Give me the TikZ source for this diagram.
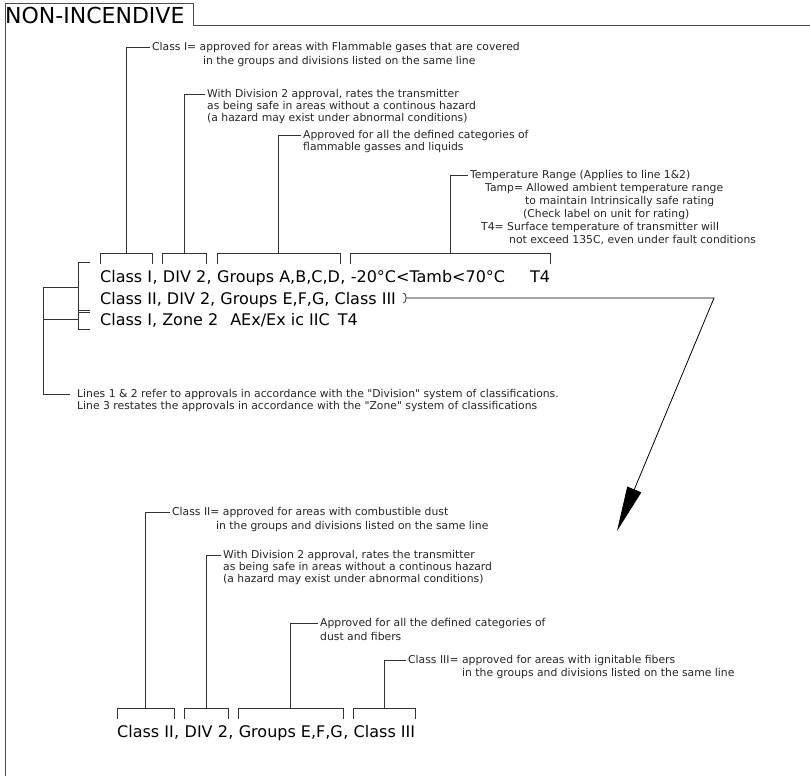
\documentclass[tikz,border=0pt]{standalone}
\usepackage{fontspec}
\setmainfont{DejaVu Sans}[Ligatures=TeXOff]
\usepackage{tikz}
\usetikzlibrary{arrows.meta,calc}
\tikzset{
    seg/.style={inner sep=0pt, anchor=base west, font=\fontsize{16}{19}\selectfont},
    note/.style={inner sep=0pt, anchor=north west, yshift=4.7pt, align=left, text=black!85, font=\fontsize{10.8}{#1}\selectfont},
    note/.default=12,
    brk/.style={draw=black!80, line width=0.8pt},
    lead/.style={draw=black!80, line width=0.8pt}}

\begin{document}
\begin{tikzpicture}[x=1pt,y=-1pt]
\useasboundingbox (0,0) rectangle (810,776);
% frame and title
\node[inner sep=0pt, anchor=base west, font=\fontsize{22}{26}\selectfont] (ttl) at (5,24) {NON-INCENDIVE};
\draw[brk, draw=black!70] (5,776) -- (5,3) -- (193,3) -- (193,25) -- (810,25);
% upper label lines
\node[seg] (u1) at (100,282) {Class I};
\node[seg] (uc1) at (u1.base east) {,};
\node[seg] (u2) at ([xshift=5pt]uc1.base east) {DIV 2};
\node[seg] (uc2) at (u2.base east) {,};
\node[seg] (u3) at ([xshift=5pt]uc2.base east) {Groups A,B,C,D};
\node[seg] (uc3) at (u3.base east) {,};
\node[seg] (u4) at ([xshift=5pt]uc3.base east) {-20°C<Tamb<70°C\hspace{25pt}T4};
\node[seg] (ln2) at (100,304) {Class II, DIV 2, Groups E,F,G, Class III};
\node[seg] (ln3) at (100,325) {Class I, Zone 2\hspace{12pt}AEx/Ex ic IIC\hspace{8pt}T4};
% lower label line
\node[seg] (d1) at (117,737) {Class II};
\node[seg] (dc1) at (d1.base east) {,};
\node[seg] (d2) at ([xshift=5pt]dc1.base east) {DIV 2};
\node[seg] (dc2) at (d2.base east) {,};
\node[seg] (d3) at ([xshift=5pt]dc2.base east) {Groups E,F,G};
\node[seg] (dc3) at (d3.base east) {,};
\node[seg] (d4) at ([xshift=5pt]dc3.base east) {Class III};
% notes
\node[note=14] (cls1) at (152,47) {Class I= approved for areas with Flammable gases that are covered\\\hspace*{51pt}in the groups and divisions listed on the same line};
\node[note=11.7] (div1) at (207,94) {With Division 2 approval, rates the transmitter\\as being safe in areas without a continous hazard\\(a hazard may exist under abnormal conditions)};
\node[note] (grp1) at (303,135) {Approved for all the defined categories of\\flammable gasses and liquids};
\node[note=13] (tmp1) at (470,175) {Temperature Range (Applies to line 1\&2)\\\hspace*{15pt}Tamp= Allowed ambient temperature range\\\hspace*{55pt}to maintain Intrinsically safe rating\\\hspace*{53pt}(Check label on unit for rating)\\\hspace*{11pt}T4= Surface temperature of transmitter will\\\hspace*{39pt}not exceed 135C, even under fault conditions};
\node[note] (sys) at (77,394) {Lines 1 \& 2 refer to approvals in accordance with the "Division" system of classifications.\\Line 3 restates the approvals in accordance with the "Zone" system of classifications};
\node[note=14] (cls2) at (172,512) {Class II= approved for areas with combustible dust\\\hspace*{44pt}in the groups and divisions listed on the same line};
\node[note=11.7] (div2) at (223,555) {With Division 2 approval, rates the transmitter\\as being safe in areas without a continous hazard\\(a hazard may exist under abnormal conditions)};
\node[note=14] (grp2) at (320,623) {Approved for all the defined categories of\\dust and fibers};
\node[note=13] (cls3) at (408,660) {Class III= approved for areas with ignitable fibers\\\hspace*{54pt}in the groups and divisions listed on the same line};
% brackets over the segments
\foreach \s in {u1,u2,u3,u4,d1,d2,d3,d4}
  \draw[brk] ([yshift=18pt]\s.base west) -- ([yshift=29pt]\s.base west) -- ([yshift=29pt]\s.base east) coordinate[pos=.5] (\s-t) -- ([yshift=18pt]\s.base east);
\foreach \s/\n in {u1/cls1,u2/div1,u3/grp1,u4/tmp1,d1/cls2,d2/div2,d3/grp2,d4/cls3}
  \draw[lead] (\s-t) |- ([xshift=-2pt,yshift=-4.7pt]\n.north west);
% brackets on the left
\draw[brk] ([xshift=-10pt,yshift=20pt]u1.base west) -- ([xshift=-22pt,yshift=20pt]u1.base west) -- ([xshift=-22pt,yshift=-8pt]ln2.base west) coordinate[pos=.5] (b12) -- ([xshift=-10pt,yshift=-8pt]ln2.base west);
\draw[brk] ([xshift=-10pt,yshift=15pt]ln3.base west) -- ([xshift=-22pt,yshift=15pt]ln3.base west) -- ([xshift=-22pt,yshift=-4pt]ln3.base west) coordinate[pos=.5] (b3) -- ([xshift=-10pt,yshift=-4pt]ln3.base west);
\draw[lead] (b12) -- ++(-35,0) coordinate (o1) |- ([xshift=-7pt,yshift=-4.7pt]sys.north west);
\draw[lead] (b3) -- (b3 -| o1);
% arrow down to the dust line
\coordinate (pr) at ([xshift=10pt,yshift=6pt]ln2.base east);
\draw[brk] ([xshift=-3pt,yshift=5pt]pr) arc[start angle=90, end angle=-90, x radius=3pt, y radius=5pt];
\coordinate (turn) at (714,298);
\coordinate (tip) at (617,531);
\draw[line width=0.8pt, -{Triangle[length=45pt,width=15pt]}] (pr) -- (turn) -- (tip);
\end{tikzpicture}
\end{document}
